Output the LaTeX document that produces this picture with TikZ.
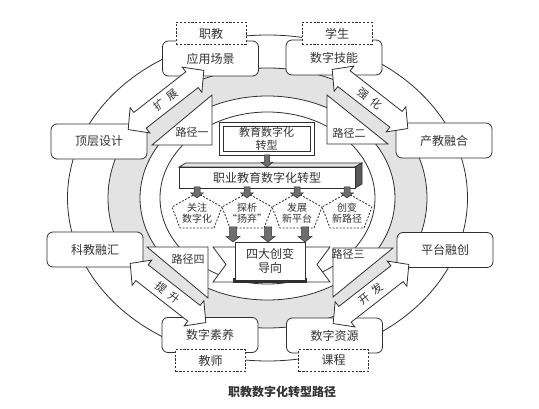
\documentclass[tikz,border=0pt]{standalone}
\usepackage{fontspec}
\setmainfont{Noto Sans CJK SC}
\usetikzlibrary{calc}
\definecolor{linec}{HTML}{303030}
\definecolor{ringgray}{HTML}{E3E3E3}
\definecolor{arrgray}{HTML}{6E6E6E}
\definecolor{txtc}{HTML}{333333}
\tikzset{
 ln/.style={draw=linec, line width=0.8pt},
 boxst/.style={ln, fill=white, rounded corners=6pt, minimum width=96pt, minimum height=35pt, inner sep=0pt, text=txtc, font=\fontsize{12}{14}\selectfont},
 dboxst/.style={ln, fill=white, dash pattern=on 2.2pt off 1.6pt, minimum width=70pt, minimum height=22pt, inner sep=0pt, text=txtc, font=\fontsize{12}{14}\selectfont},
 arrowshape/.style={ln, fill=white, line join=miter},
 arrowtext/.style={text=txtc, font=\fontsize{11}{12}\selectfont, inner sep=0pt},
 tri/.style={ln, fill=white, line join=miter},
 pathtext/.style={text=txtc, font=\fontsize{11}{12}\selectfont, inner sep=0pt},
 smallarr/.style={draw=linec, line width=0.5pt, fill=arrgray, line join=miter},
 pent/.style={ln, fill=white, dash pattern=on 2pt off 1.5pt},
 ctext/.style={text=txtc, align=center, inner sep=0pt},
}
\newcommand\blockarrow[5]{%
 \begin{scope}[shift={#1}, rotate=#2]
 \draw[arrowshape] (-#3/2,0) -- ++(15,16) -- ++(0,-6) -- (#3/2-15,10) -- ++(0,6) -- (#3/2,0) -- ++(-15,-16) -- ++(0,6) -- (-#3/2+15,-10) -- ++(0,-6) -- cycle;
 \end{scope}
 \node[arrowtext, rotate=#2] (#5) at #1 {#4};}
\newcommand\downarr[5]{%
 \draw[smallarr] ({#1-#4},#2) -- ({#1+#4},#2) -- ({#1+#4},{#3-0.8*#5}) -- ({#1+#5},{#3-0.8*#5}) -- (#1,#3) -- ({#1-#5},{#3-0.8*#5}) -- ({#1-#4},{#3-0.8*#5}) -- cycle;}
\newcommand\pentagon[3]{%
 \draw[pent] (#1,193) -- ({#1+25},207) -- ({#1+17},228) -- ({#1-17},228) -- ({#1-25},207) -- cycle;
 \node[ctext, font=\fontsize{10}{11.5}\selectfont] (#3) at (#1,213) {#2};}
\begin{document}
\begin{tikzpicture}[x=1pt, y=-1pt]
\useasboundingbox (0,0) rectangle (539,409);
\fill[white] (0,0) rectangle (539,409);
% rings
\draw[ln, fill=white] (267.5,198) ellipse [x radius=200pt, y radius=163pt];
\draw[ln, fill=ringgray] (267.5,198) ellipse [x radius=159.5pt, y radius=130pt];
\draw[ln, fill=white] (267.5,198) ellipse [x radius=127.5pt, y radius=102pt];
\draw[ln] (267.5,198) ellipse [x radius=107.5pt, y radius=86pt];
% path triangles
\draw[tri] (152,145) -- (212,95) -- (212,145) -- cycle;
\node[pathtext] (p1) at (192,132) {路径一};
\draw[tri] (327,95) -- (327,144) -- (388,144) -- cycle;
\node[pathtext] (p2) at (349,133) {路径二};
\draw[tri] (333,248) -- (393,248) -- (333,297) -- cycle;
\node[pathtext] (p3) at (348,254) {路径三};
\draw[tri] (147,247) -- (208,247) -- (208,298) -- cycle;
\node[pathtext] (p4) at (188,259) {路径四};
% boxes
\node[boxst] (yy) at (210.5,58.5) {应用场景};
\node[boxst] (jn) at (334,57.5) {数字技能};
\node[boxst] (dc) at (99,141.5) {顶层设计};
\node[boxst] (cj) at (444,140.5) {产教融合};
\node[boxst] (kj) at (95,249.5) {科教融汇};
\node[boxst] (pt) at (445,250) {平台融创};
\node[boxst] (sy) at (210,335) {数字素养};
\node[boxst] (zy) at (334.5,335.5) {数字资源};
\node[dboxst] (zj) at (211,33.5) {职教};
\node[dboxst] (xs) at (337,33.5) {学生};
\node[dboxst] (js) at (210.5,360.5) {教师};
\node[dboxst] (kc) at (333.5,360.5) {课程};
% block arrows
\blockarrow{(166,100)}{38}{96}{扩\hspace{5pt}展}{a1}
\blockarrow{(370,99)}{-38}{96}{强\hspace{5pt}化}{a2}
\blockarrow{(371,294)}{38}{96}{开\hspace{5pt}发}{a3}
\blockarrow{(168,293)}{-38}{96}{提\hspace{5pt}升}{a4}
% centre
\node[ln, fill=white, minimum width=95pt, minimum height=33pt, inner sep=0pt] (edu) at (266.5,139) {};
\node[ln, minimum width=87pt, minimum height=25pt, inner sep=0pt, align=center, text=txtc, font=\fontsize{11}{12.5}\selectfont] (eduin) at (266.5,139) {教育数字化\\转型};
\draw[ln, fill=gray!20, line join=miter] (179,167) -- (186,163) -- (362,163) -- (355,167) -- cycle;
\draw[ln, fill=gray!70!black, line join=miter] (355,167) -- (362,163) -- (362,184) -- (355,188) -- cycle;
\node[ln, fill=white, minimum width=176pt, minimum height=21pt, inner sep=0pt, text=txtc, font=\fontsize{12}{14}\selectfont] (bar) at (267,177.5) {职业教育数字化转型};
\downarr{267}{155}{167}{2.5}{6}
\pentagon{197}{关注\\数字化}{q1}
\pentagon{247}{探析\\“扬弃”}{q2}
\pentagon{297}{发展\\新平台}{q3}
\pentagon{347}{创变\\新路径}{q4}
\downarr{197}{187}{198}{3}{6.5}
\downarr{247}{187}{198}{3}{6.5}
\downarr{297}{187}{198}{3}{6.5}
\downarr{347}{187}{198}{3}{6.5}
% banner
\draw[ln, fill=white, line join=miter] (237,247) -- (213,247) -- (226,264.5) -- (213,282) -- (237,282) -- cycle;
\draw[ln, fill=white, line join=miter] (303,247) -- (330,247) -- (317,264.5) -- (330,282) -- (303,282) -- cycle;
\fill[linec] (233,278) rectangle (307,283);
\node[ln, fill=white, minimum width=70pt, minimum height=38pt, inner sep=0pt, align=center, text=txtc, font=\fontsize{12}{14}\selectfont] (banner) at (270,261) {四大创变\\导向};
\downarr{233}{227}{242}{3.5}{7}
\downarr{268}{227}{242}{3.5}{7}
\downarr{305}{227}{242}{3.5}{7}
% caption
\node[text=txtc, font=\fontsize{12}{14}\selectfont\bfseries] (cap) at (282,392) {职教数字化转型路径};
\end{tikzpicture}
\end{document}
